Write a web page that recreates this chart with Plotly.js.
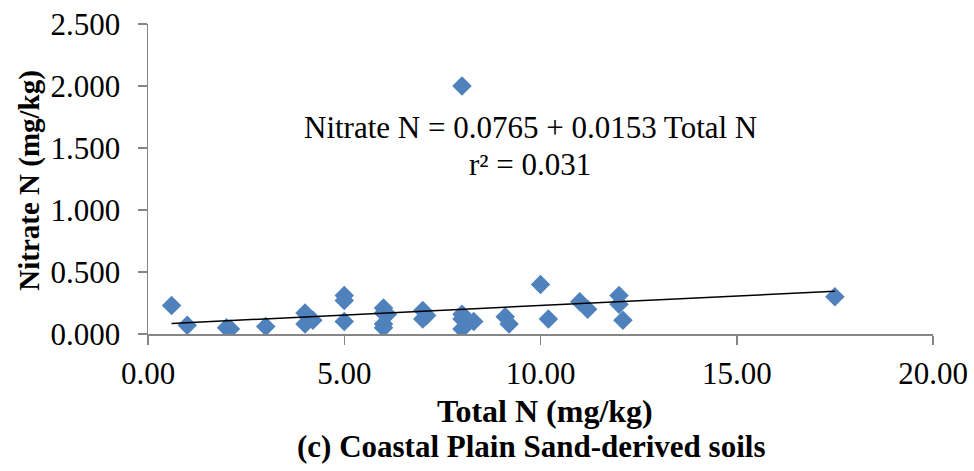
<!DOCTYPE html>
<html>
<head>
<meta charset="utf-8">
<script src="https://cdn.plot.ly/plotly-3.0.1.min.js"></script>
<style>html,body{margin:0;padding:0;background:#fff;}#chart{width:974px;height:471px;}</style>
</head>
<body>
<div id="chart"></div>
<script>
const totalN = [0.6, 1.0, 2.0, 2.1, 3.0, 4.0, 4.0, 4.2, 4.1, 5.0, 5.0, 5.0, 6.0, 6.0, 6.1, 6.0, 6.0, 7.0, 7.0, 7.1, 8.0, 8.0, 8.0, 8.1, 8.3, 8.0, 9.1, 9.2, 10.0, 10.2, 11.0, 11.2, 12.0, 12.0, 12.1, 17.5];
const nitrateN = [0.23, 0.07, 0.05, 0.04, 0.06, 0.17, 0.08, 0.11, 0.13, 0.31, 0.27, 0.10, 0.21, 0.17, 0.16, 0.08, 0.05, 0.19, 0.12, 0.15, 0.16, 0.12, 0.04, 0.09, 0.10, 2.00, 0.14, 0.08, 0.40, 0.12, 0.26, 0.20, 0.31, 0.24, 0.11, 0.30];
const intercept = 0.0765;
const slope = 0.0153;
const eqText = "Nitrate N = 0.0765 + 0.0153 Total N";
const r2Text = "r² = 0.031";
const xTitle = "Total N (mg/kg)";
const yTitle = "Nitrate N (mg/kg)";
const caption = "(c) Coastal Plain Sand-derived soils";

const xMin = Math.min(...totalN), xMax = Math.max(...totalN);
const fitX = [xMin, xMax];
const fitY = fitX.map(v => intercept + slope * v);

const serif = "'Liberation Serif', 'Times New Roman', serif";
const fnt = {family: serif, size: 31, color: '#000'};
const fntB = {family: serif, size: 32, color: '#000'};
const fntY = {family: serif, size: 29, color: '#000'};
const data = [
  {x: totalN, y: nitrateN, type: 'scatter', mode: 'markers',
   marker: {symbol: 'diamond', size: 15, color: '#4F81BD'}, showlegend: false, hoverinfo: 'skip'},
  {x: fitX, y: fitY, type: 'scatter', mode: 'lines',
   line: {color: '#000000', width: 1.5}, showlegend: false, hoverinfo: 'skip'}
];
const layout = {
  width: 974, height: 471,
  margin: {l: 148, r: 41, t: 24, b: 136.5},
  paper_bgcolor: '#ffffff', plot_bgcolor: '#ffffff',
  font: fnt,
  xaxis: {range: [0, 20], tickvals: [0, 5, 10, 15, 20], tickformat: '.2f',
          showgrid: false, zeroline: false, showline: true, linecolor: '#868686', linewidth: 1.5,
          ticks: 'outside', ticklen: 9, tickcolor: '#868686', tickwidth: 1.5,
          tickfont: fnt, ticklabelstandoff: 2},
  yaxis: {range: [0, 2.5], tickvals: [0, 0.5, 1, 1.5, 2, 2.5], tickformat: '.3f',
          showgrid: false, zeroline: false, showline: true, linecolor: '#868686', linewidth: 1.5,
          ticks: 'outside', ticklen: 9, tickcolor: '#868686', tickwidth: 1.5,
          tickfont: fnt, ticklabelstandoff: 11},
  annotations: [
    {x: 9.74, y: 1.665, xref: 'x', yref: 'y', text: eqText, showarrow: false,
     xanchor: 'center', yanchor: 'middle', font: fnt},
    {x: 9.74, y: 1.367, xref: 'x', yref: 'y', text: r2Text, showarrow: false,
     xanchor: 'center', yanchor: 'middle', font: fnt},
    {x: (545 - 148) / 785, y: (334.5 - 412) / 310.5, xref: 'paper', yref: 'paper', text: '<b>' + xTitle + '</b>',
     showarrow: false, xanchor: 'center', yanchor: 'middle', font: fntB},
    {x: (531 - 148) / 785, y: (334.5 - 447) / 310.5, xref: 'paper', yref: 'paper', text: '<b>' + caption + '</b>',
     showarrow: false, xanchor: 'center', yanchor: 'middle', font: {family: serif, size: 31, color: '#000'}},
    {x: (30 - 148) / 785, y: (334.5 - 181) / 310.5, xref: 'paper', yref: 'paper', text: '<b>' + yTitle + '</b>',
     textangle: -90, showarrow: false, xanchor: 'center', yanchor: 'middle', font: fntY}
  ]
};
Plotly.newPlot('chart', data, layout, {staticPlot: true, displayModeBar: false});
</script>
</body>
</html>
